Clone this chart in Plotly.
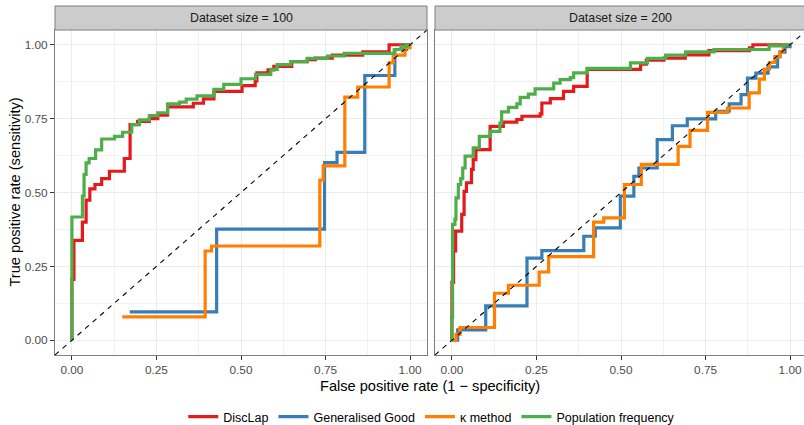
import plotly.graph_objects as go

# ---------------- data ----------------
panel_titles = ["Dataset size = 100", "Dataset size = 200"]
methods = ["DiscLap", "Generalised Good", "κ method", "Population frequency"]
colors = ["#E41A1C", "#377EB8", "#FF7F00", "#4DAF4A"]
tick_vals = [0, 0.25, 0.5, 0.75, 1.0]
tick_text = ["0.00", "0.25", "0.50", "0.75", "1.00"]

# Dataset size = 100 (step points: value reached after each vertical step)
disclap_100_fpr = [0, 0, 0.006, 0.031, 0.042, 0.053, 0.068, 0.088, 0.111, 0.155, 0.172, 0.194,
                   0.229, 0.254, 0.283, 0.359, 0.389, 0.42, 0.503, 0.542, 0.547, 0.58, 0.597,
                   0.65, 0.696, 0.72, 0.77, 0.86, 0.938, 1.0]
disclap_100_tpr = [0, 0.206, 0.338, 0.40, 0.474, 0.512, 0.527, 0.547, 0.572, 0.615, 0.73, 0.741,
                   0.75, 0.762, 0.79, 0.802, 0.817, 0.842, 0.862, 0.878, 0.905, 0.915, 0.927,
                   0.943, 0.95, 0.955, 0.965, 0.976, 1.0, 1.0]

good_100_fpr = [0.171, 0.428, 0.747, 0.784, 0.866, 0.955, 0.99, 1.0]
good_100_tpr = [0.096, 0.376, 0.601, 0.636, 0.896, 0.984, 1.0, 1.0]

kappa_100_fpr = [0.149, 0.394, 0.413, 0.733, 0.743, 0.807, 0.845, 0.938, 0.95, 0.985, 1.0]
kappa_100_tpr = [0.079, 0.302, 0.319, 0.542, 0.59, 0.823, 0.857, 0.939, 0.965, 0.99, 1.0]

popfreq_100_fpr = [0, 0, 0.031, 0.036, 0.042, 0.051, 0.070, 0.088, 0.126, 0.150, 0.177, 0.20,
                   0.229, 0.254, 0.283, 0.318, 0.338, 0.37, 0.42, 0.449, 0.50, 0.543, 0.588,
                   0.607, 0.647, 0.696, 0.756, 0.805, 0.953, 0.973, 0.99, 1.0]
popfreq_100_tpr = [0, 0.417, 0.488, 0.561, 0.60, 0.615, 0.644, 0.681, 0.69, 0.704, 0.73, 0.746,
                   0.76, 0.77, 0.80, 0.806, 0.816, 0.827, 0.849, 0.866, 0.885, 0.90, 0.917,
                   0.933, 0.943, 0.954, 0.962, 0.971, 0.984, 0.995, 1.0, 1.0]

# Dataset size = 200
disclap_200_fpr = [0, 0, 0.005, 0.011, 0.029, 0.036, 0.043, 0.058, 0.063, 0.071, 0.113, 0.152,
                   0.192, 0.207, 0.261, 0.266, 0.291, 0.33, 0.36, 0.40, 0.558, 0.575, 0.627,
                   0.69, 0.76, 0.88, 0.89, 1.0]
disclap_200_tpr = [0, 0.196, 0.302, 0.369, 0.426, 0.504, 0.533, 0.578, 0.611, 0.645, 0.724, 0.738,
                   0.747, 0.758, 0.766, 0.803, 0.818, 0.842, 0.859, 0.917, 0.934, 0.948, 0.955,
                   0.966, 0.98, 0.99, 1.0, 1.0]

good_200_fpr = [0, 0.017, 0.1, 0.222, 0.266, 0.39, 0.424, 0.498, 0.538, 0.553, 0.607, 0.652,
                0.696, 0.78, 0.82, 0.855, 0.874, 0.899, 0.935, 0.963, 0.97, 0.985, 1.0]
good_200_tpr = [0, 0.035, 0.116, 0.278, 0.303, 0.352, 0.38, 0.488, 0.555, 0.583, 0.679, 0.726,
                0.749, 0.775, 0.80, 0.831, 0.887, 0.904, 0.925, 0.96, 0.975, 0.994, 1.0]

kappa_200_fpr = [0, 0.012, 0.024, 0.126, 0.167, 0.258, 0.286, 0.419, 0.449, 0.51, 0.56, 0.669,
                 0.704, 0.756, 0.815, 0.879, 0.909, 0.924, 0.939, 0.955, 0.97, 0.98, 1.0]
kappa_200_tpr = [0, 0.02, 0.043, 0.159, 0.186, 0.231, 0.283, 0.40, 0.414, 0.527, 0.595, 0.656,
                 0.71, 0.771, 0.786, 0.837, 0.884, 0.918, 0.94, 0.96, 0.977, 1.0, 1.0]

popfreq_200_fpr = [0, 0, 0.002, 0.009, 0.012, 0.019, 0.026, 0.032, 0.039, 0.063, 0.081, 0.113,
                   0.142, 0.147, 0.167, 0.192, 0.202, 0.226, 0.246, 0.301, 0.32, 0.35, 0.36,
                   0.40, 0.528, 0.578, 0.632, 0.691, 0.775, 0.938, 0.98, 1.0]
popfreq_200_tpr = [0, 0.077, 0.392, 0.41, 0.482, 0.527, 0.547, 0.583, 0.623, 0.651, 0.69, 0.707,
                   0.735, 0.773, 0.788, 0.80, 0.822, 0.833, 0.851, 0.87, 0.882, 0.889, 0.905,
                   0.92, 0.939, 0.954, 0.965, 0.976, 0.984, 0.996, 1.0, 1.0]

diag = [-0.05, 1.1]

curves = [
    [(disclap_100_fpr, disclap_100_tpr), (good_100_fpr, good_100_tpr),
     (kappa_100_fpr, kappa_100_tpr), (popfreq_100_fpr, popfreq_100_tpr)],
    [(disclap_200_fpr, disclap_200_tpr), (good_200_fpr, good_200_tpr),
     (kappa_200_fpr, kappa_200_tpr), (popfreq_200_fpr, popfreq_200_tpr)],
]

# ---------------- figure ----------------
W, H = 804, 425
FONT = "Liberation Sans, Arial, Helvetica, sans-serif"
fig = go.Figure()

for p, panel in enumerate(curves):
    xa = "x" if p == 0 else "x2"
    ya = "y" if p == 0 else "y2"
    for m, (fx, ty) in enumerate(panel):
        fig.add_trace(go.Scatter(
            x=fx, y=ty, mode="lines", name=methods[m], legendgroup=methods[m],
            showlegend=(p == 0), line=dict(color=colors[m], width=3.2, shape="hv"),
            xaxis=xa, yaxis=ya, hoverinfo="skip"))
    fig.add_trace(go.Scatter(
        x=diag, y=diag, mode="lines", showlegend=False,
        line=dict(color="black", width=1.1, dash="5px,5px"),
        xaxis=xa, yaxis=ya, hoverinfo="skip"))

# geometry in pixels
L0, R0 = 55, 427
L1, R1 = 435, 804
TOP, BOT = 30, 355
px_per_unit = (R0 - L0) / 1.1
x2_max = -0.05 + (R1 - L1) / px_per_unit

grid = "#EBEBEB"
border = "#7F7F7F"
axis_common = dict(
    tickvals=tick_vals, ticktext=tick_text, showgrid=True, gridcolor=grid, gridwidth=1.1,
    zeroline=False, ticks="outside", ticklen=4, tickwidth=1, tickcolor="#333333",
    tickfont=dict(size=11.8, color="#4D4D4D", family=FONT),
    minor=dict(tickvals=[0.125, 0.375, 0.625, 0.875], showgrid=True,
               gridcolor="#F2F2F2", gridwidth=0.8, ticks=""),
    linecolor=border, linewidth=1, showline=True, fixedrange=True, automargin=False,
)

fig.update_layout(
    width=W, height=H, margin=dict(l=0, r=0, t=0, b=0, autoexpand=False),
    paper_bgcolor="white", plot_bgcolor="white",
    font=dict(family=FONT, color="black"),
    xaxis=dict(domain=[L0 / W, R0 / W], range=[-0.05, 1.05], mirror=True,
               anchor="y", **axis_common),
    yaxis=dict(domain=[1 - BOT / H, 1 - TOP / H], range=[-0.05, 1.05], mirror=True,
               anchor="x", **axis_common),
    xaxis2=dict(domain=[L1 / W, 1.0], range=[-0.05, x2_max], mirror=True,
                anchor="y2", **axis_common),
    yaxis2=dict(domain=[1 - BOT / H, 1 - TOP / H], range=[-0.05, 1.05], mirror=False,
                anchor="x2", matches="y", **{k: v for k, v in axis_common.items()
                                             if k not in ("ticks", "tickfont")},
                ticks="", showticklabels=False),
    legend=dict(orientation="h", x=0.537, xanchor="center", y=1 - 417 / H, yanchor="middle",
                font=dict(size=12.5, family=FONT, color="black"), itemwidth=30,
                bgcolor="rgba(0,0,0,0)", tracegroupgap=0),
)

# facet strips
STRIP_TOP = 6
shapes = []
annotations = []
for (l, r), title in zip([(L0, R0), (L1, R1 + 3)], panel_titles):
    shapes.append(dict(type="rect", xref="paper", yref="paper",
                       x0=l / W, x1=r / W, y0=1 - TOP / H, y1=1 - STRIP_TOP / H,
                       fillcolor="#CCCCCC", line=dict(color=border, width=1), layer="above"))
for (l, r), title in zip([(L0, R0), (L1, 806)], panel_titles):
    annotations.append(dict(text=title, xref="paper", yref="paper",
                            x=(l + r) / 2 / W, y=1 - (STRIP_TOP + TOP) / 2 / H,
                            showarrow=False, xanchor="center", yanchor="middle",
                            font=dict(size=12.4, color="#1A1A1A", family=FONT)))

annotations.append(dict(text="False positive rate (1 \u2212 specificity)", xref="paper", yref="paper",
                        x=(L0 + 806) / 2 / W, y=1 - 386 / H, showarrow=False,
                        xanchor="center", yanchor="middle",
                        font=dict(size=14.6, color="black", family=FONT)))
annotations.append(dict(text="True positive rate (sensitivity)", xref="paper", yref="paper",
                        x=15 / W, y=1 - (TOP + BOT) / 2 / H, showarrow=False, textangle=-90,
                        xanchor="center", yanchor="middle",
                        font=dict(size=14.6, color="black", family=FONT)))

fig.update_layout(shapes=shapes, annotations=annotations)
fig.write_html("out.html", config={"displayModeBar": False},
               post_script="document.body.style.margin='0';document.body.style.padding='0';")
